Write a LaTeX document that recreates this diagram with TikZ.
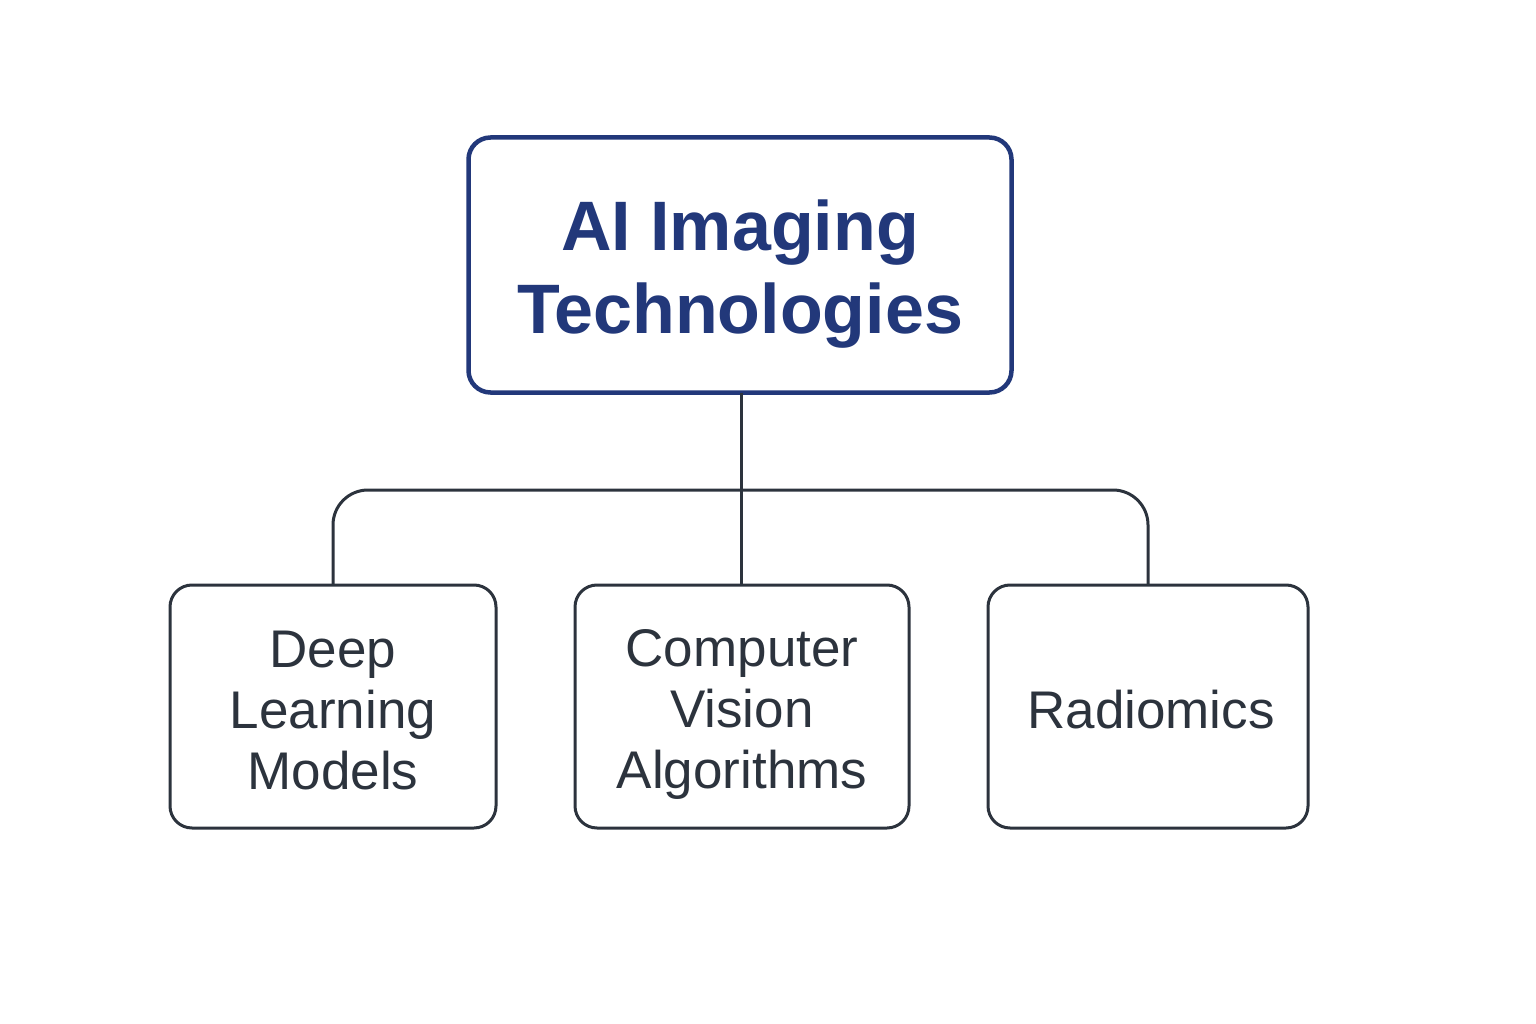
\documentclass[tikz,border=0pt]{standalone}
\usepackage{fontspec}
\setmainfont{Liberation Sans}
\definecolor{navy}{HTML}{22387A}
\definecolor{slate}{HTML}{2C333D}
\begin{document}
\begin{tikzpicture}[x=1pt,y=-1pt,
  topbox/.style={draw=navy, line width=4.5pt, rounded corners=22pt, fill=white,
    minimum width=543pt, minimum height=255pt, inner sep=0pt, outer sep=0pt},
  toptext/.style={align=center, text=navy, inner sep=0pt, font=\fontsize{70}{83}\selectfont\bfseries},
  leafbox/.style={draw=slate, line width=3pt, rounded corners=22pt, fill=white,
    minimum height=243pt, inner sep=0pt, outer sep=0pt},
  leaftext/.style={align=center, text=slate, inner sep=0pt, font=\fontsize{53}{61}\selectfont},
  conn/.style={draw=slate, line width=3pt}]
\useasboundingbox (0,0) rectangle (1536,1024);
\node[topbox] (top) at (740,265) {};
\node[toptext] (topt) at ([yshift=-9pt]top.center) {AI Imaging\\Technologies};
\node[leafbox, minimum width=326pt] (dl) at (333,706.5) {};
\node[leafbox, minimum width=334pt] (cv) at (742,706.5) {};
\node[leafbox, minimum width=320pt] (rd) at (1148,706.5) {};
\node[leaftext] (dlt) at ([yshift=-4pt]dl.center) {Deep\\Learning\\Models};
\node[leaftext] (cvt) at ([yshift=-8pt]cv.center) {Computer\\Vision\\Algorithms};
\node[leaftext] (rdt) at ([xshift=3pt,yshift=-3pt]rd.center) {Radiomics};
\coordinate (bar) at (741,490);
\draw[conn] (top.south -| bar) -- (cv.north -| bar);
\draw[conn, rounded corners=35pt] (dl.north) |- (bar) -| (rd.north);
\end{tikzpicture}
\end{document}
